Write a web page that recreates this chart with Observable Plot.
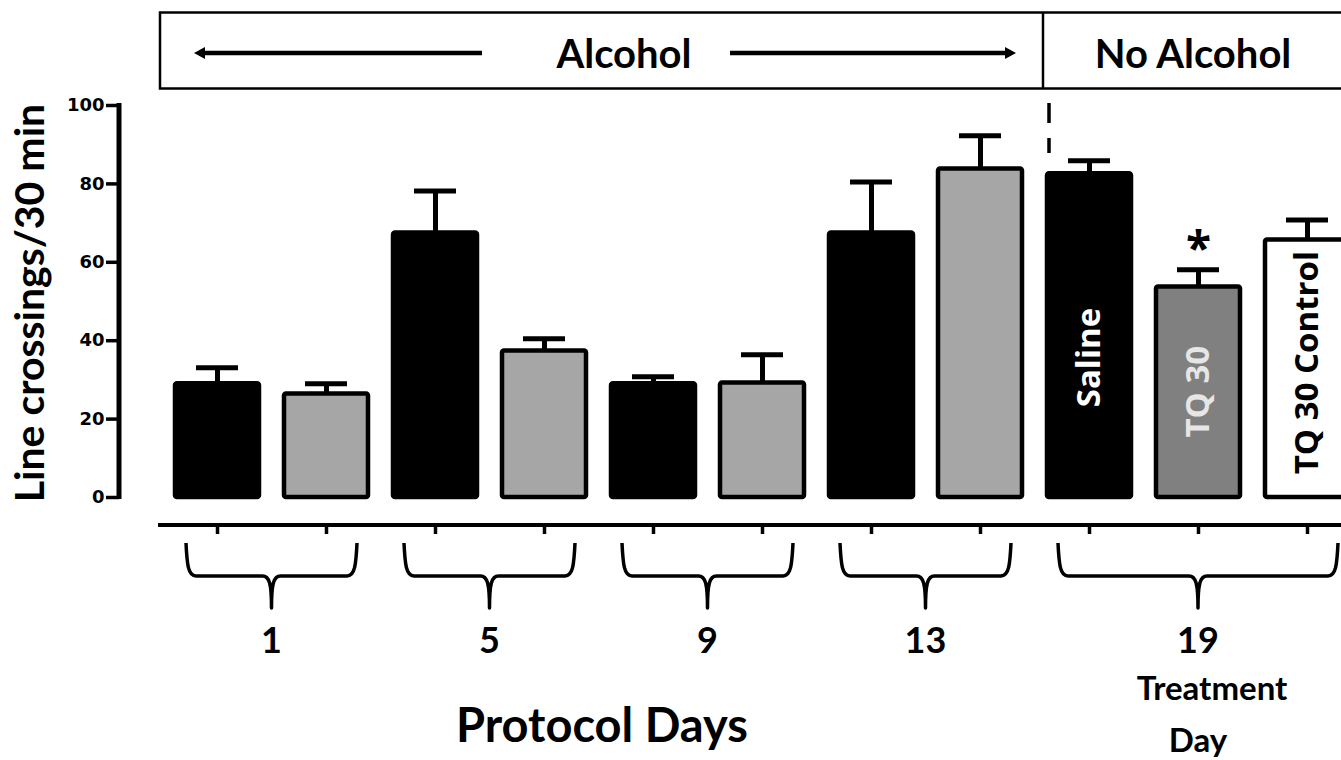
<!DOCTYPE html>
<html>
<head>
<meta charset="utf-8">
<script src="https://cdn.jsdelivr.net/npm/d3@7"></script>
<script src="https://cdn.jsdelivr.net/npm/@observablehq/plot@0.6"></script>
<style>
  html, body { margin: 0; padding: 0; background: #fff; overflow: hidden; }
  #chart svg { display: block; }
</style>
</head>
<body>
<div id="chart"></div>
<script>
// ---------- data ----------
const bars   = ["D1 saline", "D1 TQ", "D5 saline", "D5 TQ", "D9 saline", "D9 TQ", "D13 saline", "D13 TQ", "Saline", "TQ 30", "TQ 30 Control"];
const groups = ["Saline group", "TQ group", "Saline group", "TQ group", "Saline group", "TQ group", "Saline group", "TQ group", "Saline", "TQ 30", "TQ 30 Control"];
const means  = [29.0, 26.4, 67.5, 37.4, 29.0, 29.2, 67.5, 83.8, 82.6, 53.7, 65.7];
const sems   = [4.1, 2.6, 10.7, 3.1, 1.8, 7.2, 13.0, 8.5, 3.3, 4.4, 5.1];
const yTicks = [0, 20, 40, 60, 80, 100];
const dayLabels = ["1", "5", "9", "13", "19"];
const dayBars = [["D1 saline", "D1 TQ"], ["D5 saline", "D5 TQ"], ["D9 saline", "D9 TQ"], ["D13 saline", "D13 TQ"], ["Saline", "TQ 30", "TQ 30 Control"]];
const inBarLabels = ["Saline", "TQ 30", "TQ 30 Control"];
const significant = ["TQ 30"];
const phaseLabels = ["Alcohol", "No Alcohol"];
const yTitle = "Line crossings/30 min";
const xTitle = "Protocol Days";
const treatmentTitle = ["Treatment", "Day"];

const rows = bars.map((b, i) => ({bar: b, group: groups[i], mean: means[i], sem: sems[i]}));

// ---------- layout ----------
const W = 1341, H = 760, mL = 119, mB = 235;
const labelCenterY = {"Saline": 35.7, "TQ 30": 27.0, "TQ 30 Control": 34.4};
const labelColor = {"Saline": "#ffffff", "TQ 30": "#e6e6e6", "TQ 30 Control": "#000000"};

const chart = Plot.plot({
  width: W, height: H,
  marginLeft: mL, marginBottom: mB, marginTop: 0, marginRight: 0,
  style: {background: "#fff", overflow: "hidden"},
  x: {type: "band", domain: bars, range: [161.5, 1361.5], paddingInner: 0.23, paddingOuter: 0.115},
  y: {domain: [0, 100], range: [497, 105]},
  color: {domain: ["Saline group", "TQ group", "Saline", "TQ 30", "TQ 30 Control"],
          range: ["#000000", "#a6a6a6", "#000000", "#808080", "#ffffff"]},
  marks: [
    Plot.ruleX(rows, {x: "bar", y1: "mean", y2: d => d.mean + d.sem, stroke: "#000", strokeWidth: 5}),
    Plot.tickY(rows, {x: "bar", y: d => d.mean + d.sem, stroke: "#000", strokeWidth: 5, insetLeft: 21, insetRight: 21}),
    Plot.barY(rows, {x: "bar", y: "mean", fill: "group", stroke: "#000", strokeWidth: 4.5, rx: 2}),
    Plot.text(rows.filter(d => inBarLabels.includes(d.bar)), {
      x: "bar", y: d => labelCenterY[d.bar], text: "bar", rotate: -90,
      fill: d => labelColor[d.bar], fontSize: 33, fontWeight: 700, fontFamily: "Open Sans",
      textAnchor: "middle", lineAnchor: "middle"
    }),
    Plot.text(rows.filter(d => significant.includes(d.bar)), {
      x: "bar", y: d => d.mean + d.sem, text: () => "*", dy: -5,
      fontSize: 46, fontWeight: 700, fontFamily: "Open Sans", fill: "#000", lineAnchor: "bottom"
    }),
    // y ticks (marks only)
    Plot.axisY({ticks: yTicks, tickSize: 13, strokeWidth: 3.5, label: null, tickFormat: () => ""}),
    // y tick labels (heavier text)
    Plot.axisY({ticks: yTicks, tickSize: 0, tickPadding: 15, label: null,
      fontSize: 18, fontWeight: 700, fontFamily: "DejaVu Sans", fill: "#000", stroke: "#000", strokeWidth: 0.9}),
    Plot.axisX({ticks: bars, tickSize: 9, strokeWidth: 3.5, tickFormat: () => "", label: null})
  ]
});

document.getElementById("chart").appendChild(chart);

// ---------- annotations drawn with the plot's own scales ----------
const sx = chart.scale("x"), sy = chart.scale("y");
const cx = b => sx.apply(b) + sx.bandwidth / 2;
const svg = d3.select(chart);
const g = svg.append("g").attr("fill", "none").attr("stroke", "#000");

// y axis line
g.append("line").attr("x1", mL).attr("x2", mL).attr("y1", sy.apply(0) + 2).attr("y2", sy.apply(100) - 2).attr("stroke-width", 5);
// x axis line
const axY = H - mB;
g.append("line").attr("x1", 158).attr("x2", W).attr("y1", axY).attr("y2", axY).attr("stroke-width", 4);

// braces + day labels
dayBars.forEach((grp, i) => {
  const x0 = cx(grp[0]) - 31, x1 = cx(grp[grp.length - 1]) + 31, m = (x0 + x1) / 2;
  const t = axY + 18, h = axY + 51, tip = axY + 83;
  const p = `M${x0},${t} C${x0 + 1},${h - 12} ${x0 + 2},${h} ${x0 + 10},${h} L${m - 9},${h} C${m - 2},${h} ${m},${h + 8} ${m},${tip} C${m},${h + 8} ${m + 2},${h} ${m + 9},${h} L${x1 - 10},${h} C${x1 - 2},${h} ${x1 - 1},${h - 12} ${x1},${t}`;
  g.append("path").attr("d", p).attr("stroke-width", 3.5).attr("stroke-linejoin", "round");
  svg.append("text").attr("x", m).attr("y", axY + 128).attr("text-anchor", "middle")
    .attr("font-family", "Lato").attr("font-weight", 700).attr("font-size", 36).attr("fill", "#000")
    .text(dayLabels[i]);
  if (i === dayBars.length - 1) {
    treatmentTitle.forEach((s, j) => {
      svg.append("text").attr("x", m + (j === 0 ? 14 : 0)).attr("y", axY + 175 + j * 52).attr("text-anchor", "middle")
        .attr("font-family", "Lato").attr("font-weight", 700).attr("font-size", 33).attr("fill", "#000").text(s);
    });
  }
});

// x title
svg.append("text").attr("x", 602).attr("y", 742).attr("text-anchor", "middle")
  .attr("font-family", "Lato").attr("font-weight", 700).attr("font-size", 47).attr("fill", "#000").text(xTitle);

// y title
svg.append("text").attr("transform", `translate(44,${(sy.apply(0) + sy.apply(100)) / 2 + 2}) rotate(-90)`)
  .attr("text-anchor", "middle").attr("font-family", "Lato").attr("font-weight", 700).attr("font-size", 41)
  .attr("fill", "#000").text(yTitle);

// header box
const divX = sx.apply("Saline") - 4;
const boxTop = 12.5, boxBot = 88.5, midY = 53;
g.append("rect").attr("x", 160).attr("y", boxTop).attr("width", 1300).attr("height", boxBot - boxTop).attr("stroke-width", 2.5);
g.append("line").attr("x1", divX).attr("x2", divX).attr("y1", boxTop).attr("y2", boxBot).attr("stroke-width", 2.5);
svg.append("text").attr("x", 624).attr("y", 68).attr("text-anchor", "middle")
  .attr("font-family", "Lato").attr("font-weight", 700).attr("font-size", 40).attr("fill", "#000").text(phaseLabels[0]);
svg.append("text").attr("x", 1193).attr("y", 68).attr("text-anchor", "middle")
  .attr("font-family", "Lato").attr("font-weight", 700).attr("font-size", 40).attr("fill", "#000").text(phaseLabels[1]);
// arrows
function arrow(xFrom, xTo) {
  const dir = Math.sign(xTo - xFrom);
  g.append("line").attr("x1", xFrom).attr("x2", xTo - dir * 8).attr("y1", midY).attr("y2", midY).attr("stroke-width", 4.5);
  svg.append("path").attr("d", `M${xTo},${midY} L${xTo - dir * 11},${midY - 6} L${xTo - dir * 11},${midY + 6} Z`).attr("fill", "#000");
}
arrow(482, 194);
arrow(730, 1016);

// dashed separator
const dashX = sx.apply("Saline") + 2;
g.append("line").attr("x1", dashX).attr("x2", dashX).attr("y1", 103).attr("y2", 153)
  .attr("stroke-width", 3.5).attr("stroke-dasharray", "20,15");
</script>
</body>
</html>
